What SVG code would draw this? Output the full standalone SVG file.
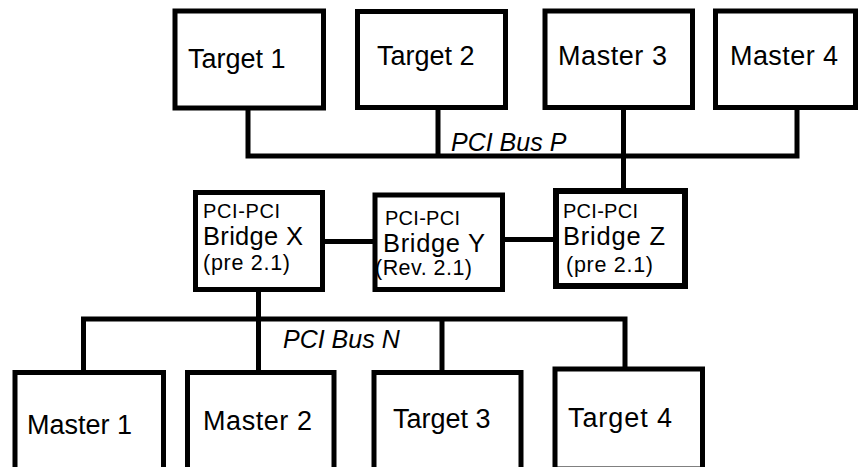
<svg xmlns="http://www.w3.org/2000/svg" width="858" height="467" viewBox="0 0 858 467">
<style>
.box{fill:#fff;stroke:#000;stroke-width:5}
.ln{fill:none;stroke:#000;stroke-width:5;stroke-linecap:butt}
.lbl{font-family:"Liberation Sans",Arial,sans-serif;font-size:27px;fill:#000}
.sm{font-family:"Liberation Sans",Arial,sans-serif;font-size:20px;fill:#000}
.sm2{font-family:"Liberation Sans",Arial,sans-serif;font-size:21.5px;fill:#000}
.md{font-family:"Liberation Sans",Arial,sans-serif;font-size:25.5px;fill:#000}
.bus{font-family:"Liberation Sans",Arial,sans-serif;font-size:25px;font-style:italic;fill:#000}
</style>
<rect width="858" height="467" fill="#fff"/>
<g id="connectors">
<path class="ln" d="M248 108 V156 H797 V107.5"/>
<path class="ln" d="M438 107.5 V156"/>
<path class="ln" d="M623.5 107.5 V191"/>
<path class="ln" d="M322.5 241.5 H375"/>
<path class="ln" d="M502.5 239.5 H556"/>
<path class="ln" d="M258.5 289.5 V372.5"/>
<path class="ln" d="M83.5 372.5 V319 H625 V369"/>
<path class="ln" d="M442 319 V372.5"/>
</g>
<g id="target1"><rect class="box" x="175" y="11" width="148.5" height="97"/><text class="lbl" x="188" y="68">Target 1</text></g>
<g id="target2"><rect class="box" x="357.5" y="11.5" width="148" height="96"/><text class="lbl" x="377" y="65">Target 2</text></g>
<g id="master3"><rect class="box" x="545" y="11" width="147.5" height="96.5"/><text class="lbl" x="558" y="65" textLength="109">Master 3</text></g>
<g id="master4"><rect class="box" x="715.5" y="11" width="140" height="96.5"/><text class="lbl" x="730" y="65" textLength="108">Master 4</text></g>
<text class="bus" x="451" y="151">PCI Bus P</text>
<g id="bridgeX"><rect class="box" x="195.5" y="192.5" width="127" height="97"/>
<text class="sm" x="203" y="218" textLength="77">PCI-PCI</text>
<text class="md" x="203" y="245" textLength="100">Bridge X</text>
<text class="sm2" x="203" y="270" textLength="87">(pre 2.1)</text></g>
<g id="bridgeY"><rect class="box" x="375" y="195" width="127.5" height="94.5"/>
<text class="sm" x="385" y="225" textLength="75">PCI-PCI</text>
<text class="md" x="383" y="252" textLength="102">Bridge Y</text>
<text class="sm2" x="375" y="275" textLength="97">(Rev. 2.1)</text></g>
<g id="bridgeZ"><rect class="box" x="556" y="191" width="129" height="95" style="stroke-width:6"/>
<text class="sm" x="563" y="218" textLength="75">PCI-PCI</text>
<text class="md" x="563" y="245" textLength="102">Bridge Z</text>
<text class="sm2" x="566" y="272" textLength="87">(pre 2.1)</text></g>
<text class="bus" x="283" y="348">PCI Bus N</text>
<g id="master1"><rect class="box" x="15" y="372.5" width="148.5" height="100"/><text class="lbl" x="27" y="434" textLength="105">Master 1</text></g>
<g id="master2"><rect class="box" x="187.5" y="372.5" width="146.5" height="100"/><text class="lbl" x="203" y="430" textLength="109">Master 2</text></g>
<g id="target3"><rect class="box" x="374" y="372.5" width="147" height="100"/><text class="lbl" x="393" y="428">Target 3</text></g>
<g id="target4"><rect class="box" x="555" y="369" width="147.5" height="100"/><text class="lbl" x="568" y="427" textLength="104">Target 4</text></g>
</svg>
